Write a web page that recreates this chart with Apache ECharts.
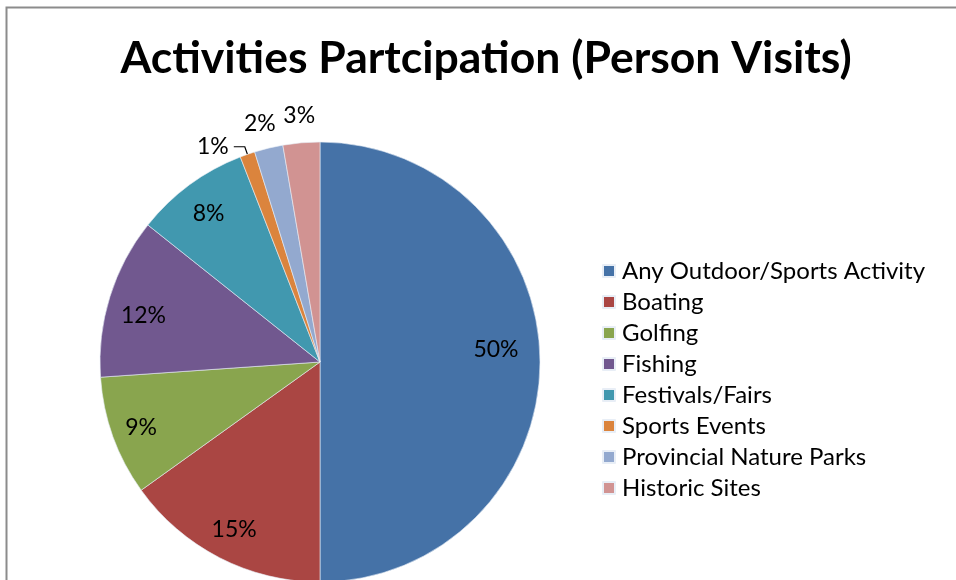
<!DOCTYPE html>
<html>
<head>
<meta charset="utf-8">
<script src="https://cdn.jsdelivr.net/npm/echarts@6/dist/echarts.min.js"></script>
<style>
  html, body { margin: 0; padding: 0; background: #fff; }
  #chart { width: 956px; height: 580px; }
</style>
</head>
<body>
<div id="chart"></div>
<script>
// data
var categories = ['Any Outdoor/Sports Activity', 'Boating', 'Golfing', 'Fishing',
                  'Festivals/Fairs', 'Sports Events', 'Provincial Nature Parks', 'Historic Sites'];
var shares = [50.0, 15.1, 8.8, 11.8, 8.4, 1.1, 2.1, 2.7];
var colors = ['#4572A7', '#AA4643', '#89A54E', '#71588F', '#4198AF', '#DB843D', '#93A9CF', '#D19392'];
// where each percentage label goes: inside the slice, just above the rim, or out on a leader line
var labelPlace = ['in', 'in', 'in', 'in', 'in', 'line', 'rim', 'rim'];
// small nudges so labels sit where Excel's "best fit" put them
var labelNudge = [[-12, -12], [0, 0], [-2, 2], [3, 9], [0, 3], [0, 0], [-3, 0], [0, -2]];

var font = 'Lato, "Open Sans", sans-serif';
var myChart = echarts.init(document.getElementById('chart'));

function pct(p) { return Math.round(p.percent) + '%'; }

function items(place) {
    return categories.map(function(name, i) {
        return {
            name: name,
            value: shares[i],
            label: { show: labelPlace[i] === place, offset: labelNudge[i] }
        };
    });
}

var mainData = categories.map(function(name, i) {
    return {
        name: name,
        value: shares[i],
        itemStyle: { color: colors[i] },
        label: { show: labelPlace[i] === 'line' },
        labelLine: { show: labelPlace[i] === 'line' }
    };
});

var labelText = { formatter: pct, fontFamily: font, fontSize: 23, color: '#000' };

var option = {
    backgroundColor: '#fff',
    animation: false,
    color: colors,
    title: {
        text: 'Activities Partcipation (Person Visits)',
        left: 481,
        textAlign: 'center',
        top: 31,
        textStyle: { fontFamily: font, fontSize: 44.5, fontWeight: 'bold', color: '#000' }
    },
    legend: {
        orient: 'vertical',
        left: 602,
        top: 259,
        padding: 0,
        data: categories,
        icon: 'rect',
        itemWidth: 12,
        itemHeight: 12,
        itemGap: 7,
        selectedMode: false,
        textStyle: { fontFamily: font, fontSize: 24, lineHeight: 21, color: '#000', padding: [0, 0, 0, 2] }
    },
    graphic: [{
        type: 'rect',
        shape: { x: 6.5, y: 7.5, width: 980, height: 600 },
        style: { fill: null, stroke: '#8c8c8c', lineWidth: 2 },
        silent: true
    }],
    series: [
        {
            type: 'pie',
            center: [320, 362],
            radius: 220,
            startAngle: 90,
            clockwise: true,
            avoidLabelOverlap: false,
            silent: true,
            itemStyle: { borderColor: '#e8eef6', borderWidth: 0.6 },
            label: Object.assign({ position: 'outside', padding: [0, 0, 14, 0] }, labelText),
            labelLine: {
                length: 8,
                length2: 11,
                lineStyle: { color: '#000', width: 1.2 }
            },
            labelLayout: { hideOverlap: false },
            data: mainData
        },
        {
            // transparent ring: places inside labels near the rim
            type: 'pie',
            center: [320, 362],
            radius: [150, 220],
            startAngle: 90,
            clockwise: true,
            silent: true,
            itemStyle: { color: 'rgba(0,0,0,0)' },
            label: Object.assign({ position: 'inside' }, labelText),
            labelLine: { show: false },
            labelLayout: { hideOverlap: false },
            data: items('in')
        },
        {
            // transparent ring just outside the pie for the small slices
            type: 'pie',
            center: [320, 362],
            radius: [230, 254],
            startAngle: 90,
            clockwise: true,
            silent: true,
            itemStyle: { color: 'rgba(0,0,0,0)' },
            label: Object.assign({ position: 'inside' }, labelText),
            labelLine: { show: false },
            labelLayout: { hideOverlap: false },
            data: items('rim')
        }
    ]
};

myChart.setOption(option);
</script>
</body>
</html>
